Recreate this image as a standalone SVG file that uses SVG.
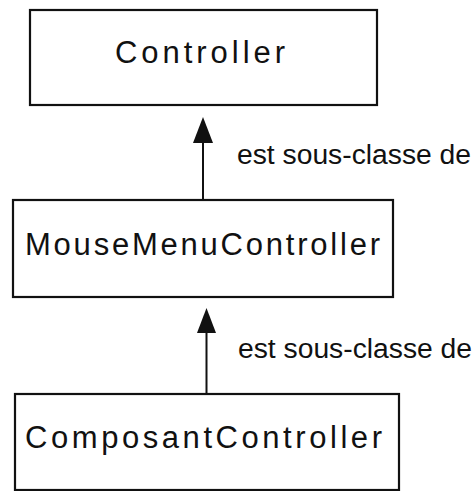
<svg xmlns="http://www.w3.org/2000/svg" width="476" height="491" viewBox="0 0 476 491">
<style>
.box{fill:#fff;stroke:#111;stroke-width:2.2}
.name{font-family:"Liberation Sans",Arial,sans-serif;font-size:31px;fill:#111}
.lbl{font-family:"Liberation Sans",Arial,sans-serif;font-size:27px;fill:#111}
.conn{stroke:#111;stroke-width:2;fill:none}
.head{fill:#111}
</style>
<rect width="476" height="491" fill="#fff"/>
<g id="controller">
<rect class="box" x="30" y="10" width="347" height="95"/>
<text class="name" x="115" y="63" textLength="170" lengthAdjust="spacing">Controller</text>
</g>
<g id="mousemenucontroller">
<rect class="box" x="13" y="200" width="380" height="97"/>
<text class="name" x="25" y="255" textLength="355" lengthAdjust="spacing">MouseMenuController</text>
</g>
<g id="composantcontroller">
<rect class="box" x="15" y="394" width="384" height="96"/>
<text class="name" x="25" y="448" textLength="357" lengthAdjust="spacing">ComposantController</text>
</g>
<g id="connectors">
<line class="conn" x1="203" y1="200" x2="203" y2="140"/>
<polygon class="head" points="203,117 193,143 213,143"/>
<text class="lbl" x="237" y="164" textLength="234" lengthAdjust="spacingAndGlyphs">est sous-classe de</text>
<line class="conn" x1="206.5" y1="394" x2="206.5" y2="330"/>
<polygon class="head" points="206.5,308 197,333 216,333"/>
<text class="lbl" x="238" y="358" textLength="234" lengthAdjust="spacingAndGlyphs">est sous-classe de</text>
</g>
</svg>
